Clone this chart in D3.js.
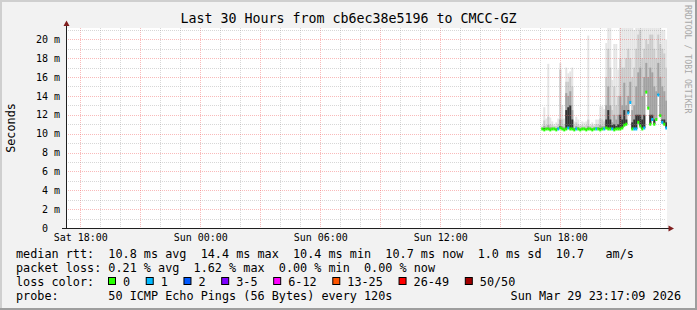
<!DOCTYPE html>
<html>
<head>
<meta charset="utf-8">
<script src="https://cdn.jsdelivr.net/npm/d3@7"></script>
<style>
html, body { margin: 0; padding: 0; background: #f2f2f2; }
svg { display: block; }
text { font-family: "DejaVu Sans Mono", monospace; white-space: pre; }
</style>
</head>
<body>
<svg id="chart"></svg>
<script>
// Set dimensions
const width = 697;
const height = 310;
const plot = { left: 66, right: 666, top: 28, bottom: 228 };

// Texts
const titleText = "Last 30 Hours from cb6ec38e5196 to CMCC-GZ";
const yLabelText = "Seconds";
const watermarkText = "RRDTOOL / TOBI OETIKER";

// Time window (UTC) and sampling of the smoke columns
const timeStart = Date.UTC(2026, 2, 28, 17, 17, 9);
const timeEnd = Date.UTC(2026, 2, 29, 23, 17, 9);
const firstSample = Date.UTC(2026, 2, 29, 17, 3, 0);
const sampleMinutes = 6;

// y axis (milliseconds)
const yMax = 21.2;
const yTicks = [0, 2, 4, 6, 8, 10, 12, 14, 16, 18, 20];

// median rtt per sample (ms)
const median = [10.5, 10.4, 10.5, 10.5, 10.4, 10.5, 10.5, 10.4, 10.5, 10.6, 10.5,
    10.4, 10.5, 10.6, 10.5, 10.5, 10.4, 10.5, 10.5, 10.4, 10.5,
    10.5, 10.4, 10.5, 10.5, 10.4, 10.5, 10.5, 10.5, 10.4, 10.5,
    10.5, 10.6, 10.5, 10.5, 10.5, 10.4, 10.5, 10.5, 10.5, 10.6,
    10.9, 11.0, 12.2, 13.3, 10.5, 10.5, 10.5, 11.2, 10.8, 10.5,
    10.6, 14.4, 12.7, 11.0, 11.5, 11.0, 11.5, 14.1, 11.9, 11.2, 11.0, 10.6];

// loss class per sample (index into lossLabels)
const lossIdx = [0, 0, 0, 0, 0, 0, 0, 0, 1, 0, 0,
    0, 0, 1, 0, 0, 0, 1, 0, 0, 0,
    0, 0, 0, 0, 0, 0, 1, 0, 0, 0,
    1, 0, 0, 0, 1, 0, 0, 0, 0, 0,
    0, 0, 1, 1, 0, 1, 1, 0, 0, 0,
    1, 0, 0, 0, 1, 0, 0, 1, 0, 1, 0, 1];

// smoke: upper ping quantiles per sample (ms)
const smokeMax = [10.9, 12.8, 11.6, 17.4, 11.7, 11.3, 11.0, 11.2, 11.6, 17.5, 13.0,
    11.6, 17.0, 16.4, 16.6, 17.0, 11.3, 11.8, 11.5, 11.0, 11.3,
    11.2, 11.3, 20.4, 11.0, 11.2, 11.0, 11.5, 11.5, 12.9, 12.9,
    12.6, 19.6, 21.5, 21.5, 15.7, 19.5, 19.5, 16.8, 21.5, 21.5,
    21.5, 21.5, 21.5, 21.5, 21.5, 21.0, 21.5, 21.5, 21.5, 21.5,
    21.5, 21.5, 21.5, 21.5, 21.5, 21.5, 21.5, 21.5, 21.5, 21.0, 21.0, 20.0];
const smoke95 = [10.6, 11.4, 10.9, 11.8, 11.0, 10.9, 10.8, 10.8, 11.0, 16.8, 11.5,
    11.0, 15.5, 15.5, 16.0, 15.0, 10.9, 11.2, 11.0, 10.8, 10.9,
    10.8, 10.9, 11.5, 10.8, 10.9, 10.8, 11.0, 11.0, 11.6, 11.5,
    11.3, 16.0, 19.0, 17.0, 12.5, 15.0, 13.0, 14.0, 18.0, 17.0,
    17.0, 18.0, 19.0, 18.0, 16.0, 17.0, 19.0, 20.5, 21.0, 18.0,
    19.0, 20.0, 19.5, 20.5, 20.5, 19.0, 18.0, 20.5, 19.5, 19.0, 18.5, 17.0];
const smoke85 = [10.5, 10.8, 10.6, 10.9, 10.7, 10.6, 10.6, 10.6, 10.7, 11.5, 10.8,
    10.7, 14.3, 14.0, 14.5, 12.5, 10.6, 10.8, 10.7, 10.6, 10.6,
    10.6, 10.6, 10.8, 10.6, 10.6, 10.6, 10.7, 10.7, 10.9, 10.8,
    10.8, 13.0, 15.0, 13.0, 11.2, 12.0, 11.5, 12.0, 14.0, 13.0,
    15.4, 13.0, 14.0, 15.5, 12.5, 13.0, 15.0, 16.5, 17.0, 14.0,
    16.0, 17.5, 16.0, 17.0, 16.5, 15.0, 14.5, 17.5, 16.0, 15.0, 14.5, 13.5];
const smoke70 = [10.5, 10.6, 10.5, 10.6, 10.5, 10.5, 10.5, 10.5, 10.6, 10.8, 10.6,
    10.5, 12.5, 12.8, 13.0, 11.5, 10.5, 10.6, 10.5, 10.5, 10.5,
    10.5, 10.5, 10.6, 10.5, 10.5, 10.5, 10.5, 10.5, 10.6, 10.6,
    10.6, 11.5, 12.5, 11.5, 10.9, 11.0, 10.8, 11.0, 12.0, 11.5,
    12.5, 11.5, 12.5, 13.3, 11.2, 11.5, 12.0, 12.0, 12.0, 11.5,
    12.0, 14.4, 12.0, 12.0, 12.0, 11.5, 11.5, 14.2, 12.0, 11.5, 11.5, 11.2];
const smokeLevels = [smokeMax, smoke95, smoke85, smoke70];
const smokeColors = ["#e5e5e5", "#cbcbcb", "#a2a2a2", "#333333"];

// loss legend
const lossLabels = ["0", "1", "2", "3-5", "6-12", "13-25", "26-49", "50/50"];
const lossColors = ["#26ff00", "#00b8ff", "#0059ff", "#7e00ff", "#ff00ff", "#ff5500", "#ff0000", "#a10000"];

// legend lines
const legendRtt = "median rtt:  10.8 ms avg  14.4 ms max  10.4 ms min  10.7 ms now  1.0 ms sd  10.7   am/s";
const legendLoss = "packet loss: 0.21 % avg  1.62 % max  0.00 % min  0.00 % now";
const legendLossColor = "loss color:";
const legendProbe = "probe:       50 ICMP Echo Pings (56 Bytes) every 120s";
const legendStamp = "Sun Mar 29 23:17:09 2026";

const svg = d3.select("#chart")
    .attr("width", width)
    .attr("height", height);

// background + 3d frame
svg.append("rect").attr("width", width).attr("height", height).attr("fill", "#f2f2f2");
svg.append("path").attr("fill", "#cfcfcf")
    .attr("d", `M0,0H${width}V2H2V${height}H0Z`);
svg.append("path").attr("fill", "#9e9e9e")
    .attr("d", `M${width},${height}H0V${height - 2}H${width - 2}V0H${width}Z`);

// canvas
svg.append("rect")
    .attr("x", plot.left).attr("y", plot.top)
    .attr("width", plot.right - plot.left + 1).attr("height", plot.bottom - plot.top)
    .attr("fill", "#ffffff");

// scales
const x = d3.scaleUtc().domain([timeStart, timeEnd]).range([plot.left, plot.right]);
const y = d3.scaleLinear().domain([0, yMax]).range([plot.bottom, plot.top]);

const samples = median.map((m, i) => {
    const t0 = new Date(firstSample + i * sampleMinutes * 60000);
    const t1 = new Date(firstSample + (i + 1) * sampleMinutes * 60000);
    return { t0, t1, median: m, loss: lossIdx[i], i };
});

svg.append("clipPath").attr("id", "plotclip")
    .append("rect")
    .attr("x", plot.left).attr("y", plot.top)
    .attr("width", plot.right - plot.left + 1).attr("height", plot.bottom - plot.top);

// smoke
const smoke = svg.append("g").attr("clip-path", "url(#plotclip)");
smokeLevels.forEach((level, k) => {
    smoke.append("g")
        .selectAll("rect")
        .data(samples)
        .join("rect")
        .attr("x", d => x(d.t0))
        .attr("width", d => x(d.t1) - x(d.t0))
        .attr("y", d => y(level[d.i]))
        .attr("height", d => Math.max(0, y(d.median) - y(level[d.i])))
        .attr("fill", smokeColors[k]);
});

// grid
const minorCol = "rgba(150,150,150,0.38)";
const majorCol = "rgba(240,90,90,0.42)";
const grid = svg.append("g").attr("shape-rendering", "crispEdges");
const hours = x.ticks(d3.utcHour.every(1));
grid.selectAll("line.vx")
    .data(hours)
    .join("line")
    .attr("x1", d => Math.round(x(d)) + 0.5)
    .attr("x2", d => Math.round(x(d)) + 0.5)
    .attr("y1", plot.top)
    .attr("y2", plot.bottom)
    .attr("stroke", d => d.getUTCHours() % 3 === 0 ? majorCol : minorCol)
    .attr("stroke-dasharray", "1,1");

const yMinor = d3.range(1, Math.floor(yMax) + 1);
grid.selectAll("line.hy")
    .data(yMinor)
    .join("line")
    .attr("x1", plot.left)
    .attr("x2", plot.right)
    .attr("y1", d => Math.round(y(d)) + 0.5)
    .attr("y2", d => Math.round(y(d)) + 0.5)
    .attr("stroke", d => yTicks.includes(d) ? majorCol : minorCol)
    .attr("stroke-dasharray", "1,1");

// median line, colored by loss
svg.append("g").attr("clip-path", "url(#plotclip)")
    .selectAll("rect")
    .data(samples)
    .join("rect")
    .attr("x", d => x(d.t0))
    .attr("width", d => x(d.t1) - x(d.t0))
    .attr("y", d => y(d.median) - 1.5)
    .attr("height", 3)
    .attr("fill", d => lossColors[d.loss]);

// y axis labels
const yAxis = svg.append("g")
    .attr("transform", `translate(${plot.left},0)`)
    .call(d3.axisLeft(y).tickValues(yTicks).tickSize(0)
        .tickFormat(d => d === 0 ? " 0" : `${String(d).padStart(2)} m`));
yAxis.select(".domain").remove();
yAxis.selectAll("text")
    .attr("x", 36 - plot.left)
    .attr("text-anchor", "start")
    .attr("fill", "#000")
    .style("font-size", "10px")
    .style("font-family", "'DejaVu Sans Mono', monospace");

// x axis labels
const xAxis = svg.append("g")
    .attr("transform", `translate(0,${plot.bottom})`)
    .call(d3.axisBottom(x).ticks(d3.utcHour.every(6)).tickSize(0)
        .tickFormat(d3.utcFormat("%a %H:%M")));
xAxis.select(".domain").remove();
xAxis.selectAll("text")
    .attr("y", 13)
    .attr("dy", 0)
    .attr("fill", "#000")
    .style("font-size", "10px")
    .style("font-family", "'DejaVu Sans Mono', monospace");

// axis lines and arrows
svg.append("line")
    .attr("x1", plot.left + 0.5).attr("x2", plot.left + 0.5)
    .attr("y1", plot.bottom + 1).attr("y2", 25)
    .attr("stroke", "#1f1f1f").attr("shape-rendering", "crispEdges");
svg.append("line")
    .attr("x1", 62).attr("x2", 669)
    .attr("y1", plot.bottom + 0.5).attr("y2", plot.bottom + 0.5)
    .attr("stroke", "#1f1f1f").attr("shape-rendering", "crispEdges");
svg.append("path").attr("fill", "#801f1f")
    .attr("d", `M${plot.left + 0.5},20.5L${plot.left + 3.5},26L${plot.left - 2.5},26Z`);
svg.append("path").attr("fill", "#801f1f")
    .attr("d", `M674,${plot.bottom + 0.5}L668.5,${plot.bottom - 2.5}L668.5,${plot.bottom + 3.5}Z`);

// title
svg.append("text")
    .attr("x", width / 2)
    .attr("y", 23)
    .attr("text-anchor", "middle")
    .style("font-size", "13.3px")
    .text(titleText);

// y label
svg.append("text")
    .attr("transform", `translate(15,${(plot.top + plot.bottom) / 2}) rotate(-90)`)
    .attr("text-anchor", "middle")
    .style("font-size", "11.8px")
    .text(yLabelText);

// watermark
svg.append("text")
    .attr("transform", "translate(685,5) rotate(90)")
    .attr("fill", "#a8a8a8")
    .style("font-size", "8.2px")
    .text(watermarkText);

// legend
const legend = svg.append("g").style("font-size", "11.8px");
const rowY = [257.5, 271.5, 285.7, 300];
const charW = 7.13;
legend.append("text").attr("x", 16).attr("y", rowY[0]).text(legendRtt);
legend.append("text").attr("x", 16).attr("y", rowY[1]).text(legendLoss);
legend.append("text").attr("x", 16).attr("y", rowY[2]).text(legendLossColor);
legend.append("text").attr("x", 16).attr("y", rowY[3]).text(legendProbe);
legend.append("text").attr("x", 681).attr("y", rowY[3]).attr("text-anchor", "end").text(legendStamp);

let bx = 108;
lossLabels.forEach((lab, k) => {
    legend.append("rect")
        .attr("x", bx + 0.5).attr("y", rowY[2] - 8.2)
        .attr("width", 7).attr("height", 7)
        .attr("fill", lossColors[k])
        .attr("stroke", "#000").attr("stroke-width", 1);
    legend.append("text").attr("x", bx + 15).attr("y", rowY[2]).text(lab);
    bx += 15 + lab.length * charW + 15.6;
});
</script>
</body>
</html>
